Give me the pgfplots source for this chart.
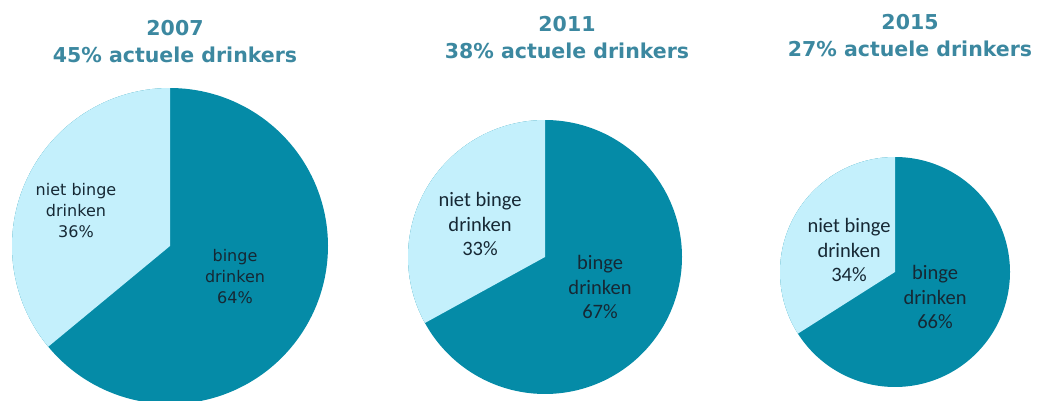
\documentclass[border=0pt]{standalone}
\usepackage{pgfplots}
\pgfplotsset{compat=1.18}
\usepackage{fontspec}
\setmainfont{DejaVu Sans}
\newfontfamily\carlito{Carlito}

\definecolor{piedark}{RGB}{5,139,167}
\definecolor{pielight}{RGB}{196,240,252}
\definecolor{titleblue}{RGB}{60,136,160}
\definecolor{labeltext}{RGB}{22,40,52}

\begin{document}
\begin{tikzpicture}
\begin{axis}[
  at={(0,0)}, anchor=south west,
  width=1038pt, height=400pt, scale only axis,
  xmin=0, xmax=1038, ymin=0, ymax=400,
  hide axis,
]
% 2007: 64% binge, 36% niet binge
\addplot[fill=piedark, draw=none, domain=0:360, samples=180, variable=\t]
  ({170+158*cos(\t)}, {154+158*sin(\t)}) -- cycle;
\addplot[fill=pielight, draw=none, domain=90:90+3.6*36, samples=90, variable=\t]
  ({170+158*cos(\t)}, {154+158*sin(\t)}) -- (axis cs:170,154) -- cycle;

% 2011: 67% binge, 33% niet binge
\addplot[fill=piedark, draw=none, domain=0:360, samples=180, variable=\t]
  ({545+137*cos(\t)}, {143+137*sin(\t)}) -- cycle;
\addplot[fill=pielight, draw=none, domain=90:90+3.6*33, samples=90, variable=\t]
  ({545+137*cos(\t)}, {143+137*sin(\t)}) -- (axis cs:545,143) -- cycle;

% 2015: 66% binge, 34% niet binge
\addplot[fill=piedark, draw=none, domain=0:360, samples=180, variable=\t]
  ({895+115*cos(\t)}, {128+115*sin(\t)}) -- cycle;
\addplot[fill=pielight, draw=none, domain=90:90+3.6*34, samples=90, variable=\t]
  ({895+115*cos(\t)}, {128+115*sin(\t)}) -- (axis cs:895,128) -- cycle;

% titles
\tikzset{ttl/.style={align=center, text=titleblue, font=\bfseries\fontsize{20.5}{27}\selectfont}}
\node[ttl] at (axis cs:175,358) {2007\\45\% actuele drinkers};
\node[ttl] at (axis cs:567,362) {2011\\38\% actuele drinkers};
\node[ttl] at (axis cs:910,364) {2015\\27\% actuele drinkers};

% slice labels
\tikzset{lbA/.style={align=center, text=labeltext, font=\fontsize{16}{21}\selectfont},
         lbB/.style={align=center, text=labeltext, font=\carlito\fontsize{20.5}{24.5}\selectfont}}
\node[lbA] at (axis cs:76,189) {niet binge\\drinken\\36\%};
\node[lbA] at (axis cs:235,123) {binge\\drinken\\64\%};
\node[lbB] at (axis cs:480,176) {niet binge\\drinken\\33\%};
\node[lbB] at (axis cs:600,113) {binge\\drinken\\67\%};
\node[lbB] at (axis cs:849,150) {niet binge\\drinken\\34\%};
\node[lbB] at (axis cs:935,103) {binge\\drinken\\66\%};
\end{axis}
\pgfresetboundingbox
\useasboundingbox (0,0) rectangle (1038pt,400pt);
\end{tikzpicture}
\end{document}
